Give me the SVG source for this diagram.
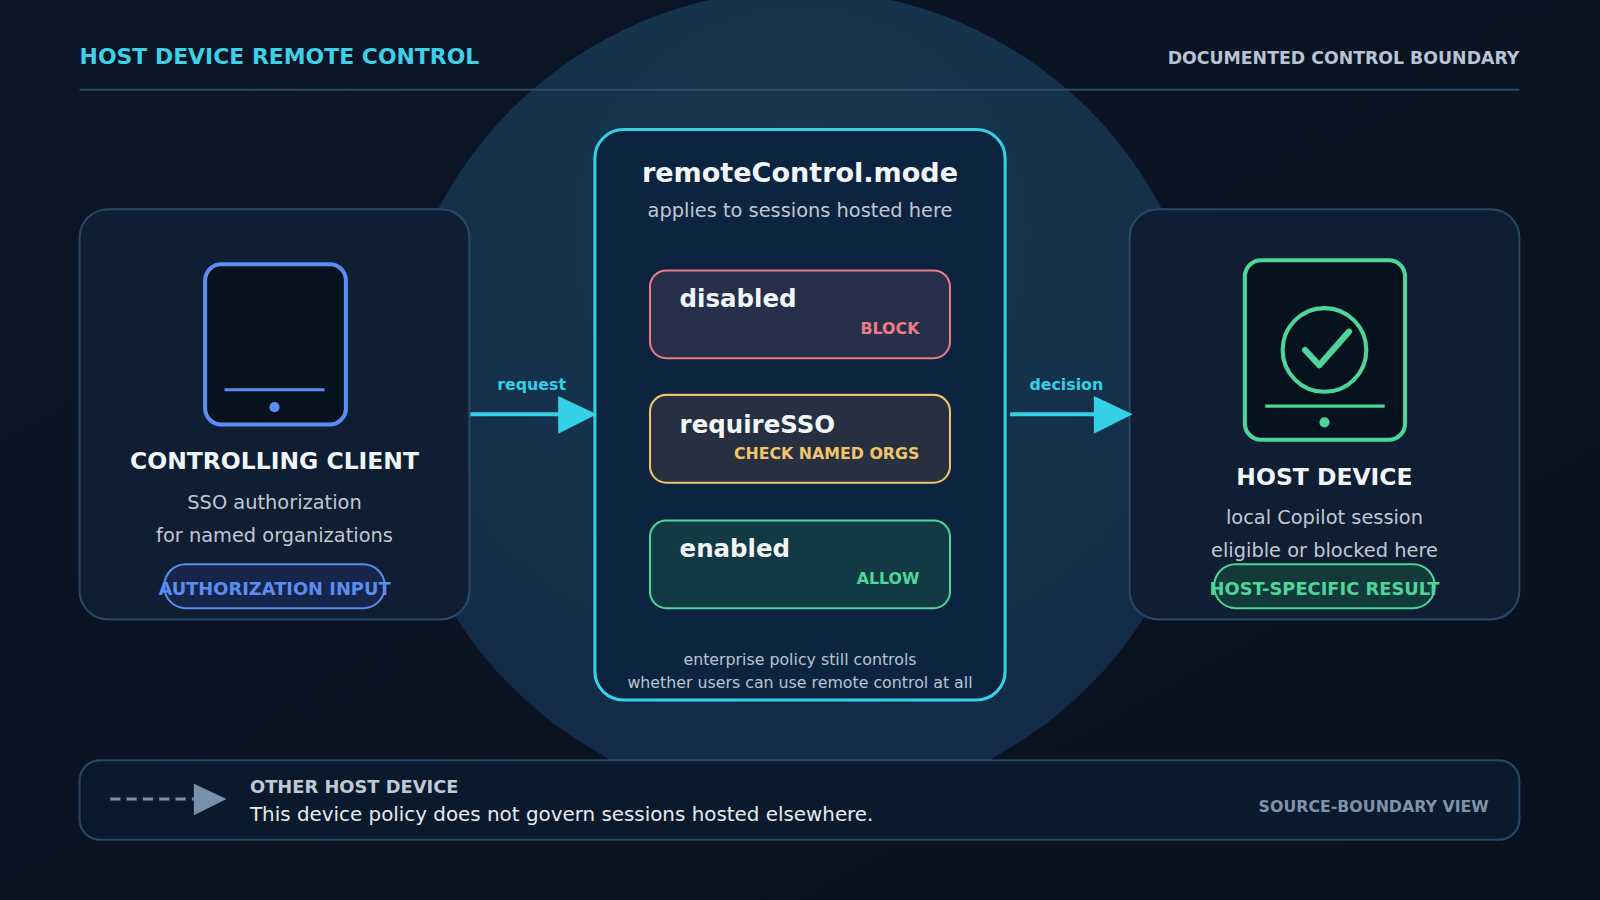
<svg xmlns="http://www.w3.org/2000/svg" width="1600" height="900" viewBox="0 0 1600 900">
<defs>
<linearGradient id="bg" x1="0" y1="0" x2="1" y2="1"><stop offset="0" stop-color="#0a1526"/><stop offset="1" stop-color="#08111f"/></linearGradient>
<radialGradient id="glow" cx="0.5" cy="0.3" r="0.7"><stop offset="0" stop-color="#17394f"/><stop offset="1" stop-color="#132a48"/></radialGradient>
<style>
text{font-family:"DejaVu Sans","Liberation Sans",sans-serif}
.card{fill:#0f1e33;stroke:#2a4866;stroke-width:2}
.h{font-weight:bold;font-size:23px;fill:#f2f5f8;text-anchor:middle}
.sub{font-size:19px;fill:#c0c8d4;text-anchor:middle}
.opt{font-weight:bold;font-size:24px;fill:#f2f5f8}
.tag{font-weight:bold;font-size:15.5px;text-anchor:end}
.conn{stroke:#33d0e6;stroke-width:4;fill:none}
.lbl{font-weight:bold;font-size:15.5px;fill:#33d0e6;text-anchor:middle}
</style>
</defs>
<rect width="1600" height="900" fill="url(#bg)"/>
<g transform="scale(1.0204)">
<circle cx="784" cy="390" r="400" fill="url(#glow)"/>
<text x="78" y="63" font-weight="bold" font-size="21.5" fill="#3dd0e8">HOST DEVICE REMOTE CONTROL</text>
<text x="1489" y="63" font-weight="bold" font-size="17" fill="#b8c4d4" text-anchor="end">DOCUMENTED CONTROL BOUNDARY</text>
<line x1="78" y1="88" x2="1489" y2="88" stroke="#2a4a6a" stroke-width="2"/>

<g id="client">
<rect class="card" x="78" y="205" width="382" height="402" rx="28"/>
<rect x="201" y="259" width="138" height="157" rx="16" fill="#07121f" stroke="#5b8cf0" stroke-width="4"/>
<line x1="220" y1="382" x2="318" y2="382" stroke="#5b8cf0" stroke-width="3"/>
<circle cx="269" cy="399" r="5" fill="#5b8cf0"/>
<text class="h" x="269" y="460">CONTROLLING CLIENT</text>
<text class="sub" x="269" y="499">SSO authorization</text>
<text class="sub" x="269" y="531">for named organizations</text>
<rect x="161" y="553" width="216" height="43" rx="21" fill="#16264a" stroke="#5b8cf0" stroke-width="2"/>
<text x="269" y="583" font-weight="bold" font-size="17.5" fill="#5b8cf0" text-anchor="middle">AUTHORIZATION INPUT</text>
</g>

<g id="mode">
<rect x="583" y="127" width="402" height="559" rx="28" fill="#0d2440" stroke="#33d0e6" stroke-width="3"/>
<text x="784" y="178" font-weight="bold" font-size="26.5" fill="#f2f5f8" text-anchor="middle">remoteControl.mode</text>
<text class="sub" x="784" y="213" fill="#b8c4d4">applies to sessions hosted here</text>
<rect x="637" y="265" width="294" height="86" rx="16" fill="#26304a" stroke="#f07a8a" stroke-width="2"/>
<text class="opt" x="666" y="301">disabled</text>
<text class="tag" x="901" y="327" fill="#f07a8a">BLOCK</text>
<rect x="637" y="387" width="294" height="86" rx="16" fill="#263040" stroke="#f2c46a" stroke-width="2"/>
<text class="opt" x="666" y="424">requireSSO</text>
<text class="tag" x="901" y="450" fill="#f2c46a">CHECK NAMED ORGS</text>
<rect x="637" y="510" width="294" height="86" rx="16" fill="#123a44" stroke="#4ed69a" stroke-width="2"/>
<text class="opt" x="666" y="546">enabled</text>
<text class="tag" x="901" y="572" fill="#4ed69a">ALLOW</text>
<text x="784" y="652" font-size="15.5" fill="#b8c4d4" text-anchor="middle">enterprise policy still controls</text>
<text x="784" y="674" font-size="15.5" fill="#b8c4d4" text-anchor="middle">whether users can use remote control at all</text>
</g>

<g id="host">
<rect class="card" x="1107" y="205" width="382" height="402" rx="28"/>
<rect x="1220" y="255" width="157" height="176" rx="16" fill="#07121f" stroke="#4ed69a" stroke-width="4"/>
<circle cx="1298" cy="343" r="41" fill="none" stroke="#4ed69a" stroke-width="4"/>
<path d="M1279 343 L1293 358 L1322 325" fill="none" stroke="#4ed69a" stroke-width="6" stroke-linecap="round" stroke-linejoin="round"/>
<line x1="1240" y1="398" x2="1357" y2="398" stroke="#4ed69a" stroke-width="3"/>
<circle cx="1298" cy="414" r="5" fill="#4ed69a"/>
<text class="h" x="1298" y="475">HOST DEVICE</text>
<text class="sub" x="1298" y="514">local Copilot session</text>
<text class="sub" x="1298" y="546">eligible or blocked here</text>
<rect x="1190" y="553" width="216" height="43" rx="21" fill="#133a3a" stroke="#4ed69a" stroke-width="2"/>
<text x="1298" y="583" font-weight="bold" font-size="17.5" fill="#4ed69a" text-anchor="middle">HOST-SPECIFIC RESULT</text>
</g>

<g id="connectors">
<line class="conn" x1="461" y1="406" x2="550" y2="406"/>
<polygon points="547,388 585,406 547,425" fill="#33d0e6"/>
<text class="lbl" x="521" y="382">request</text>
<line class="conn" x1="990" y1="406" x2="1074" y2="406"/>
<polygon points="1072,388 1110,406 1072,425" fill="#33d0e6"/>
<text class="lbl" x="1045" y="382">decision</text>
</g>

<g id="other">
<rect x="78" y="745" width="1411" height="78" rx="20" fill="#0a1a2c" stroke="#2a4866" stroke-width="2"/>
<line x1="108" y1="783" x2="190" y2="783" stroke="#7890aa" stroke-width="3" stroke-dasharray="10 6"/>
<polygon points="190,768 222,783 190,799" fill="#7890aa"/>
<text x="245" y="777" font-weight="bold" font-size="17.5" fill="#c0c8d4">OTHER HOST DEVICE</text>
<text x="245" y="805" font-size="19.5" fill="#e6ebf0">This device policy does not govern sessions hosted elsewhere.</text>
<text x="1459" y="796" font-weight="bold" font-size="15.5" fill="#7f92aa" text-anchor="end">SOURCE-BOUNDARY VIEW</text>
</g>
</g>
</svg>
